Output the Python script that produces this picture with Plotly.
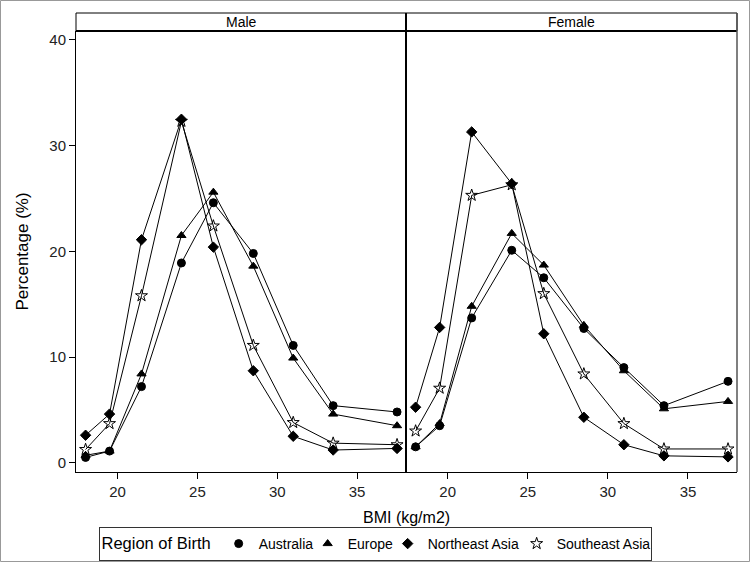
import plotly.graph_objects as go

bmi = [18, 19.5, 21.5, 24, 26, 28.5, 31, 33.5, 37.5]
regions = ["Australia", "Europe", "Northeast Asia", "Southeast Asia"]
symbols = ["circle", "triangle-up", "diamond", "star-open"]
sizes = [8, 8, 8, 9]

male_australia = [0.5, 1.1, 7.2, 18.9, 24.6, 19.8, 11.1, 5.4, 4.8]
male_europe = [0.7, 1.1, 8.4, 21.5, 25.6, 18.6, 9.9, 4.6, 3.5]
male_ne_asia = [2.6, 4.6, 21.1, 32.5, 20.4, 8.7, 2.5, 1.2, 1.35]
male_se_asia = [1.25, 3.7, 15.8, 32.3, 22.4, 11.1, 3.8, 1.85, 1.7]

female_australia = [1.5, 3.5, 13.7, 20.1, 17.5, 12.7, 9.0, 5.4, 7.7]
female_europe = [1.5, 3.7, 14.8, 21.7, 18.7, 13.0, 8.7, 5.1, 5.8]
female_ne_asia = [5.25, 12.8, 31.3, 26.4, 12.2, 4.3, 1.7, 0.65, 0.55]
female_se_asia = [3.0, 7.05, 25.3, 26.3, 16.0, 8.4, 3.7, 1.3, 1.3]

male = [male_australia, male_europe, male_ne_asia, male_se_asia]
female = [female_australia, female_europe, female_ne_asia, female_se_asia]

W, H = 750, 562
L, R, T, B = 76, 13, 31, 90
pw = W - L - R
ph = H - T - B
split = 330 / pw
legend_widths = [44, 35, 84, 88]

fig = go.Figure()
for i, name in enumerate(regions):
    for vals, xa, ya in [(male[i], "x", "y"), (female[i], "x2", "y2")]:
        fig.add_trace(go.Scatter(
            x=bmi, y=vals, xaxis=xa, yaxis=ya, mode="lines+markers",
            line=dict(color="black", width=1),
            marker=dict(symbol=symbols[i], size=sizes[i], color="black",
                        line=dict(color="black", width=1)),
            showlegend=False, name=name))
    fig.add_trace(go.Scatter(
        x=[None], y=[None], mode="markers", name=name,
        marker=dict(symbol=symbols[i], size=sizes[i], color="black",
                    line=dict(color="black", width=1)),
        legendwidth=legend_widths[i], showlegend=True))

font = "Liberation Sans, Arial, sans-serif"
xr = [17.4, 38.06]
yr = [-0.88, 40.85]
axis_common = dict(showgrid=False, zeroline=False, ticks="outside", ticklen=6,
                   tickcolor="black", tickfont=dict(size=15, color="#222"),
                   linecolor="black", linewidth=1, showline=True)

fig.update_layout(
    width=W, height=H, margin=dict(l=L, r=R, t=T, b=B, autoexpand=False),
    paper_bgcolor="white", plot_bgcolor="white",
    font=dict(family=font, color="black"),
    xaxis=dict(domain=[0, split], range=xr, tickvals=[20, 25, 30, 35],
               anchor="y", **axis_common),
    xaxis2=dict(domain=[split, 1], range=xr, tickvals=[20, 25, 30, 35],
                anchor="y2", **axis_common),
    yaxis=dict(range=yr, tickvals=[0, 10, 20, 30, 40], anchor="x", **axis_common),
    yaxis2=dict(range=yr, anchor="x2", showticklabels=False, showgrid=False,
                zeroline=False, showline=False, ticks=""),
    legend=dict(orientation="h", xref="container", yref="container",
                x=0.5, xanchor="center", y=1 - 527 / H, yanchor="top",
                bordercolor="#333", borderwidth=1,
                font=dict(size=14, color="black"),
                title=dict(text="Region of Birth", font=dict(size=16.5, color="black")),
                itemwidth=30, tracegroupgap=0),
)

strip_top = 1 + (T - 13) / ph
shapes = []
shapes.append(dict(type="rect", xref="paper", yref="paper", x0=0, x1=1,
                   y0=1, y1=strip_top, line=dict(color="black", width=1)))
shapes.append(dict(type="line", xref="paper", yref="paper", x0=0, x1=1,
                   y0=1, y1=1, line=dict(color="black", width=2)))
shapes.append(dict(type="line", xref="paper", yref="paper", x0=split, x1=split,
                   y0=0, y1=strip_top, line=dict(color="black", width=2)))
shapes.append(dict(type="line", xref="paper", yref="paper", x0=1, x1=1,
                   y0=0, y1=strip_top, line=dict(color="#555", width=1.5)))
shapes.append(dict(type="rect", xref="paper", yref="paper",
                   x0=(-L + 0.5) / pw, x1=(W - L - 0.5) / pw,
                   y0=(-B + 0.5) / ph, y1=1 + (T - 0.5) / ph,
                   line=dict(color="#999", width=1)))
fig.update_layout(shapes=shapes)

ann = []
ann.append(dict(text="Male", xref="paper", yref="paper", x=split / 2,
                y=(1 + strip_top) / 2, xanchor="center", yanchor="middle",
                showarrow=False, font=dict(size=14)))
ann.append(dict(text="Female", xref="paper", yref="paper", x=(split + 1) / 2,
                y=(1 + strip_top) / 2, xanchor="center", yanchor="middle",
                showarrow=False, font=dict(size=14)))
ann.append(dict(text="BMI (kg/m2)", xref="paper", yref="paper", x=0.5,
                y=-(517 - T - ph) / ph, xanchor="center", yanchor="middle",
                showarrow=False, font=dict(size=16)))
ann.append(dict(text="Percentage (%)", xref="paper", yref="paper",
                x=-(L - 22) / pw, y=0.5, xanchor="center", yanchor="middle",
                textangle=-90, showarrow=False, font=dict(size=17)))
fig.update_layout(annotations=ann)

fig.write_html("out.html", config={"displayModeBar": False},
               post_script="document.body.style.margin='0';")
